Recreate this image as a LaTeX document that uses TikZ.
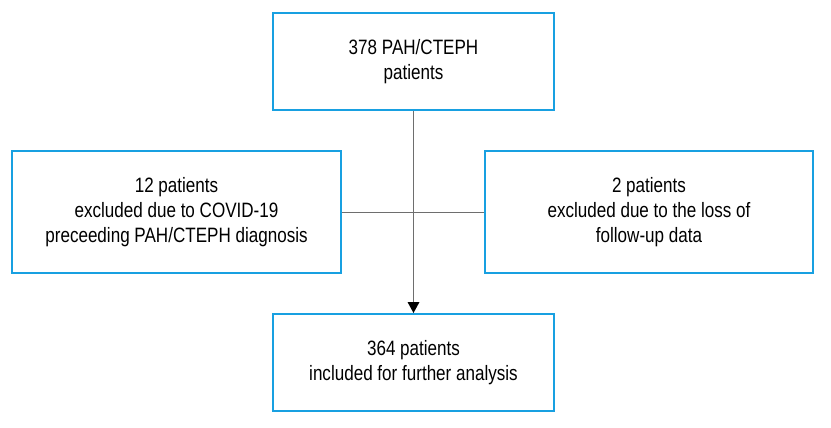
\documentclass[tikz,border=0pt]{standalone}
\usepackage{fontspec}
\setmainfont{Liberation Sans}[FakeStretch=0.82]
\usetikzlibrary{arrows.meta}
\definecolor{boxblue}{RGB}{24,160,225}
\definecolor{lin}{RGB}{110,110,110}
\begin{document}
\begin{tikzpicture}[x=1pt,y=-1pt,
  flowbox/.style={draw=boxblue,line width=2pt,fill=white,inner sep=0pt,align=center,font=\fontsize{20.8}{25}\selectfont},
  conn/.style={draw=lin,line width=1pt}]
\useasboundingbox (0,0) rectangle (831,428);
\node[flowbox,minimum width=281pt,minimum height=97pt] (top) at (413.5,61.5) {378 PAH/CTEPH\\patients};
\node[flowbox,minimum width=329pt,minimum height=122pt] (left) at (176.5,212) {12 patients\\excluded due to COVID-19\\preceeding PAH/CTEPH diagnosis};
\node[flowbox,minimum width=328pt,minimum height=122pt] (right) at (649,212) {2 patients\\excluded due to the loss of\\follow-up data};
\node[flowbox,minimum width=281pt,minimum height=97pt] (bot) at (413.5,362.5) {364 patients\\included for further analysis};
\draw[conn] (left.east) -- (right.west);
\draw[conn,-{Triangle[length=11pt,width=12pt,line width=0pt,fill=black]}] (top.south) -- (bot.north);
\end{tikzpicture}
\end{document}
